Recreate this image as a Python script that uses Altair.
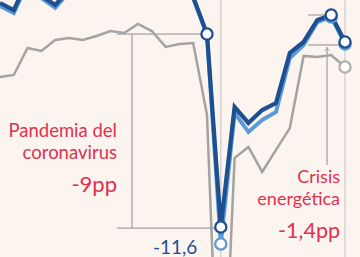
import altair as alt
import pandas as pd

# quarter index (0 = left edge of the crop)
idx = list(range(26))
# series values (pp); values above the visible window are off-chart
dark = [-1.14, -1.47, -0.07, -0.81, -1.23, -0.53, -0.40, -0.20, 0.10, -0.10, 0.30, 0.20, 0.00, -0.30,
        -0.86, -2.59, -11.60, -6.00, -6.74, -6.14, -5.81, -3.47, -2.96, -1.93, -1.70, -2.96]
light = [-1.28, -1.61, -0.21, -0.91, -1.37, -0.63, -0.50, -0.30, 0.00, -0.20, 0.20, 0.10, -0.10, -0.40,
         -0.91, -2.63, -12.39, -6.28, -7.16, -6.60, -6.23, -3.71, -3.10, -2.03, -1.79, -3.05]
gray = [-4.60, -4.50, -3.24, -3.38, -2.87, -2.77, -2.87, -2.68, -2.45, -2.54, -2.12, -2.45, -3.19,
        -3.05, -3.01, -6.37, -22.95, -8.38, -7.86, -9.03, -8.00, -6.98, -3.61, -3.66, -3.57, -4.13]

BG = "#fcf5ef"
DARK = "#1d4f91"
LIGHT = "#5b9bd5"
GRAY = "#a3a3a3"
ANN = "#8c8c8c"
RED = "#e2304e"

XD = [0, 26.087]
YD = [-13, -1]
xs = alt.Scale(domain=XD, nice=False, zero=False)
ys = alt.Scale(domain=YD, nice=False, zero=False)

def df_series(vals, name):
    return pd.DataFrame({"i": idx, "v": vals, "s": name})

base_enc = dict(
    x=alt.X("i:Q", scale=xs, axis=None),
    y=alt.Y("v:Q", scale=ys, axis=None),
)

# light vertical period markers
vmark = pd.DataFrame({"i": [16, 25]})
vlines = alt.Chart(vmark).mark_rule(color="#d9d0cf", strokeWidth=1.5).encode(
    x=alt.X("i:Q", scale=xs, axis=None), y=alt.value(0), y2=alt.value(257))

# annotation segments (data units)
seg = pd.DataFrame({
    "x1": [8.478, 9.565, 8.478, 22.32, 22.32, 23.70],
    "x2": [15.0, 9.565, 15.72, 23.91, 24.86, 23.70],
    "y1": [-2.59, -2.59, -11.65, -1.70, -3.10, -3.19],
    "y2": [-2.59, -11.65, -11.65, -1.70, -3.10, -8.70],
})
segs = alt.Chart(seg).mark_rule(color=ANN, strokeWidth=1).encode(
    x=alt.X("x1:Q", scale=xs, axis=None), x2="x2:Q",
    y=alt.Y("y1:Q", scale=ys, axis=None), y2="y2:Q")

arrow = alt.Chart(pd.DataFrame({"x": [23.70], "y": [-3.27]})).mark_point(
    shape="M-1,0.8L0,0L1,0.8", filled=False, color=ANN, strokeWidth=1, size=30
).encode(x=alt.X("x:Q", scale=xs, axis=None), y=alt.Y("y:Q", scale=ys, axis=None))

gline = alt.Chart(df_series(gray, "g")).mark_line(color=GRAY, strokeWidth=2.5, clip=True).encode(**base_enc)
lline = alt.Chart(df_series(light, "l")).mark_line(color=LIGHT, strokeWidth=4, clip=True).encode(**base_enc)
dline = alt.Chart(df_series(dark, "d")).mark_line(color=DARK, strokeWidth=4.2, clip=True).encode(**base_enc)

def pts(vals, which, color):
    d = pd.DataFrame({"i": [idx[k] for k in which], "v": [vals[k] for k in which]})
    return alt.Chart(d).mark_point(filled=True, fill="white", stroke=color, strokeWidth=2.3,
                                   size=125, opacity=1, clip=True).encode(**base_enc)

gpts = pts(gray, [25], "#b0b0b0")
lpts = pts(light, [16, 24, 25], LIGHT)
dpts = pts(dark, [15, 16, 24, 25], DARK)

txt = pd.DataFrame({
    "x": [8.478, 8.478, 8.478, 24.64, 24.64, 24.64],
    "y": [-7.40, -8.42, -9.97, -9.55, -10.55, -12.11],
    "t": ["Pandemia del", "coronavirus", "-9pp", "Crisis", "energética", "-1,4pp"],
    "fs": [18.5, 18.5, 22, 18, 18, 21.5],
})
texts = alt.Chart(txt).mark_text(align="right", baseline="alphabetic", font="Lato", color=RED).encode(
    x=alt.X("x:Q", scale=xs, axis=None), y=alt.Y("y:Q", scale=ys, axis=None),
    text="t:N", size=alt.Size("fs:Q", scale=None, legend=None))

vlab = alt.Chart(pd.DataFrame({"x": [14.3], "y": [-12.86], "t": ["-11,6"]})).mark_text(
    align="right", baseline="alphabetic", font="Lato", fontSize=19, color=DARK).encode(
    x=alt.X("x:Q", scale=xs, axis=None), y=alt.Y("y:Q", scale=ys, axis=None), text="t:N")

chart = alt.layer(vlines, segs, arrow, gline, lline, dline, gpts, lpts, dpts, texts, vlab).properties(
    width=360, height=257, padding=0, autosize=alt.AutoSizeParams(type="none"), background=BG
).configure_view(stroke=None)

chart.save("out.html", embed_options={"renderer": "svg", "actions": False})
